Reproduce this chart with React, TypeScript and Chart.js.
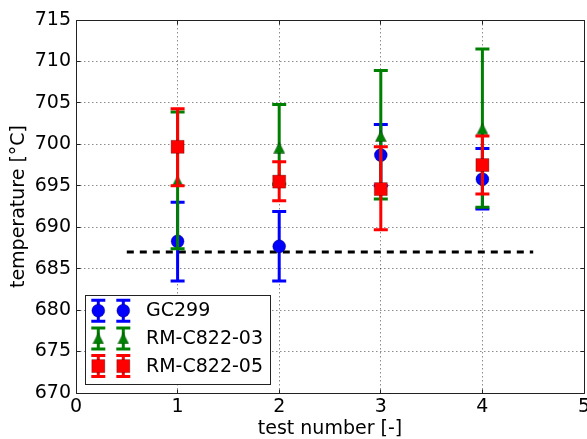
import { useEffect, useRef } from 'react';
import { Chart, registerables } from 'chart.js';
Chart.register(...registerables);

// ---- data ----
const testNumbers = [1, 2, 3, 4];
const seriesLabels = ['GC299', 'RM-C822-03', 'RM-C822-05'];
const gc299Values = [688.3, 687.7, 698.7, 695.8];
const gc299Lower = [683.5, 683.5, 695.0, 692.2];
const gc299Upper = [693.0, 691.9, 702.4, 699.5];
const rm03Values = [695.6, 699.6, 701.0, 701.9];
const rm03Lower = [687.4, 695.2, 693.4, 692.4];
const rm03Upper = [703.9, 704.8, 708.9, 711.5];
const rm05Values = [699.7, 695.5, 694.6, 697.5];
const rm05Lower = [695.0, 693.2, 689.7, 694.0];
const rm05Upper = [704.3, 697.9, 699.7, 701.0];
const referenceX = [0.5, 4.5];
const referenceY = [687, 687];
const xTicks = [0, 1, 2, 3, 4, 5];
const yTicks = [670, 675, 680, 685, 690, 695, 700, 705, 710, 715];

const FONT = { family: '"DejaVu Sans", sans-serif', size: 19 };
const TITLE_FONT = { family: '"DejaVu Sans", sans-serif', size: 19, lineHeight: 1 };
const BLUE = '#0000ff';
const GREEN = '#008000';
const RED = '#ff0000';
const EDGE = 'rgba(0,0,0,0.55)';

function makeTriangle(size: number, fill: string): HTMLCanvasElement {
  const c = document.createElement('canvas');
  c.width = size + 1;
  c.height = size + 1;
  const g = c.getContext('2d')!;
  g.beginPath();
  g.moveTo(0.5, size + 0.5);
  g.lineTo((size + 1) / 2, 0.5);
  g.lineTo(size + 0.5, size + 0.5);
  g.closePath();
  g.fillStyle = fill;
  g.fill();
  g.strokeStyle = EDGE;
  g.lineWidth = 0.5;
  g.stroke();
  return c;
}

const errorBarPlugin = {
  id: 'errorBars',
  beforeDatasetDraw(chart: any, args: any) {
    const ds = chart.data.datasets[args.index] as any;
    if (!ds.errLow) return;
    const xs = chart.scales.x;
    const ys = chart.scales.y;
    const ctx = chart.ctx as CanvasRenderingContext2D;
    ctx.save();
    ctx.strokeStyle = ds.errColor;
    ctx.lineWidth = 3;
    ctx.lineCap = 'butt';
    ds.data.forEach((p: any, i: number) => {
      const px = xs.getPixelForValue(p.x);
      const y1 = ys.getPixelForValue(ds.errLow[i]);
      const y2 = ys.getPixelForValue(ds.errHigh[i]);
      ctx.beginPath();
      ctx.moveTo(px, y1);
      ctx.lineTo(px, y2);
      ctx.moveTo(px - 7, y1);
      ctx.lineTo(px + 7, y1);
      ctx.moveTo(px - 7, y2);
      ctx.lineTo(px + 7, y2);
      ctx.stroke();
    });
    ctx.restore();
  },
};

const gridPlugin = {
  id: 'mplGrid',
  beforeDatasetsDraw(chart: any) {
    const { ctx, chartArea } = chart;
    const xs = chart.scales.x;
    const ys = chart.scales.y;
    ctx.save();
    ctx.strokeStyle = 'rgba(0,0,0,0.45)';
    ctx.lineWidth = 1;
    ctx.setLineDash([1.5, 2.5]);
    xTicks.forEach((v) => {
      const px = Math.floor(xs.getPixelForValue(v)) + 0.5;
      ctx.beginPath();
      ctx.moveTo(px, chartArea.top);
      ctx.lineTo(px, chartArea.bottom);
      ctx.stroke();
    });
    yTicks.forEach((v) => {
      const py = Math.floor(ys.getPixelForValue(v)) + 0.5;
      ctx.beginPath();
      ctx.moveTo(chartArea.left, py);
      ctx.lineTo(chartArea.right, py);
      ctx.stroke();
    });
    ctx.restore();
  },
  afterDatasetsDraw(chart: any) {
    const { ctx, chartArea } = chart;
    const xs = chart.scales.x;
    const ys = chart.scales.y;
    const l = Math.floor(chartArea.left) + 0.5;
    const r = Math.floor(chartArea.right) + 0.5;
    const t = Math.floor(chartArea.top) + 0.5;
    const b = Math.floor(chartArea.bottom) + 0.5;
    ctx.save();
    ctx.strokeStyle = '#222';
    ctx.lineWidth = 1;
    ctx.beginPath();
    ctx.rect(l, t, r - l, b - t);
    ctx.stroke();
    ctx.beginPath();
    xTicks.forEach((v) => {
      const px = Math.floor(xs.getPixelForValue(v)) + 0.5;
      ctx.moveTo(px, b);
      ctx.lineTo(px, b - 4);
      ctx.moveTo(px, t);
      ctx.lineTo(px, t + 4);
    });
    yTicks.forEach((v) => {
      const py = Math.floor(ys.getPixelForValue(v)) + 0.5;
      ctx.moveTo(l, py);
      ctx.lineTo(l + 4, py);
      ctx.moveTo(r, py);
      ctx.lineTo(r - 4, py);
    });
    ctx.stroke();
    ctx.restore();
  },
};

function makeLegendPlugin(tri: HTMLCanvasElement) {
  return {
    id: 'errLegend',
    afterDraw(chart: any) {
      const ctx = chart.ctx as CanvasRenderingContext2D;
      const x0 = 85.5;
      const y0 = 295.5;
      const w = 185;
      const h = 89;
      ctx.save();
      ctx.fillStyle = '#fff';
      ctx.fillRect(x0, y0, w, h);
      ctx.strokeStyle = '#222';
      ctx.lineWidth = 1;
      ctx.strokeRect(x0, y0, w, h);
      const colors = [BLUE, GREEN, RED];
      const shapes = ['circle', 'triangle', 'square'];
      seriesLabels.forEach((label, i) => {
        const cy = 310.7 + i * 27.7;
        [98.3, 123.3].forEach((cx) => {
          ctx.strokeStyle = colors[i];
          ctx.lineWidth = 3;
          ctx.beginPath();
          ctx.moveTo(cx, cy - 10.5);
          ctx.lineTo(cx, cy + 10.5);
          ctx.moveTo(cx - 7, cy - 10.5);
          ctx.lineTo(cx + 7, cy - 10.5);
          ctx.moveTo(cx - 7, cy + 10.5);
          ctx.lineTo(cx + 7, cy + 10.5);
          ctx.stroke();
          ctx.fillStyle = colors[i];
          ctx.strokeStyle = EDGE;
          ctx.lineWidth = 0.5;
          if (shapes[i] === 'circle') {
            ctx.beginPath();
            ctx.arc(cx, cy, 6.5, 0, Math.PI * 2);
            ctx.fill();
            ctx.stroke();
          } else if (shapes[i] === 'square') {
            ctx.beginPath();
            ctx.rect(cx - 6.5, cy - 6.5, 13, 13);
            ctx.fill();
            ctx.stroke();
          } else {
            ctx.drawImage(tri, cx - tri.width / 2, cy - tri.height / 2);
          }
        });
        ctx.fillStyle = '#000';
        ctx.font = `${FONT.size}px ${FONT.family}`;
        ctx.textAlign = 'left';
        ctx.textBaseline = 'middle';
        ctx.fillText(label, 146, cy + 0.5);
      });
      ctx.restore();
    },
  };
}

function pts(values: number[]) {
  return testNumbers.map((x, i) => ({ x, y: values[i] }));
}

export default function App() {
  const ref = useRef<HTMLCanvasElement>(null);
  useEffect(() => {
    const canvas = ref.current!;
    const tri = makeTriangle(11, GREEN);
    const chart = new Chart(canvas, {
      type: 'scatter',
      data: {
        datasets: [
          {
            label: 'reference',
            data: referenceX.map((x, i) => ({ x, y: referenceY[i] })),
            showLine: true,
            borderColor: '#000',
            borderWidth: 3,
            borderDash: [7, 6],
            pointRadius: 0,
            order: 4,
          } as any,
          {
            label: seriesLabels[0],
            data: pts(gc299Values),
            pointStyle: 'circle',
            pointRadius: 6.5,
            backgroundColor: BLUE,
            borderColor: EDGE,
            borderWidth: 0.5,
            order: 3,
            errLow: gc299Lower,
            errHigh: gc299Upper,
            errColor: BLUE,
          } as any,
          {
            label: seriesLabels[1],
            data: pts(rm03Values),
            pointStyle: tri,
            pointRadius: 6,
            backgroundColor: GREEN,
            borderColor: EDGE,
            borderWidth: 0.5,
            order: 2,
            errLow: rm03Lower,
            errHigh: rm03Upper,
            errColor: GREEN,
          } as any,
          {
            label: seriesLabels[2],
            data: pts(rm05Values),
            pointStyle: 'rect',
            pointRadius: 9.2,
            backgroundColor: RED,
            borderColor: EDGE,
            borderWidth: 0.5,
            order: 1,
            errLow: rm05Lower,
            errHigh: rm05Upper,
            errColor: RED,
          } as any,
        ],
      },
      options: {
        animation: false,
        responsive: false,
        maintainAspectRatio: false,
        layout: { autoPadding: false, padding: { left: 0, top: 20, right: 3, bottom: 0 } },
        plugins: { legend: { display: false }, tooltip: { enabled: false } },
        scales: {
          x: {
            type: 'linear',
            min: 0,
            max: 5,
            afterBuildTicks: (s: any) => {
              s.ticks = xTicks.map((v) => ({ value: v }));
            },
            ticks: { font: FONT, color: '#000', padding: 3, maxRotation: 0, autoSkip: false },
            grid: { display: false, drawTicks: false },
            border: { display: false },
            title: { display: true, text: 'test number [-]', font: TITLE_FONT, color: '#000', padding: { top: 0, bottom: 0.5 } },
            afterFit: (s: any) => {
              s.height = 46;
              s.paddingLeft = 0;
              s.paddingRight = 0;
            },
          },
          y: {
            type: 'linear',
            min: 670,
            max: 715,
            afterBuildTicks: (s: any) => {
              s.ticks = yTicks.map((v) => ({ value: v }));
            },
            ticks: { font: FONT, color: '#000', padding: 5, autoSkip: false },
            grid: { display: false, drawTicks: false },
            border: { display: false },
            title: { display: true, text: 'temperature [°C]', font: TITLE_FONT, color: '#000', padding: { top: 10, bottom: 0 } },
            afterFit: (s: any) => {
              s.width = 76;
              s.paddingTop = 0;
              s.paddingBottom = 0;
            },
          },
        },
      },
      plugins: [gridPlugin, errorBarPlugin, makeLegendPlugin(tri)],
    });
    return () => chart.destroy();
  }, []);
  return (
    <div style={{ position: 'fixed', left: 0, top: 0, width: 587, height: 439, background: '#fff' }}>
      <canvas ref={ref} width={587} height={439} style={{ display: 'block' }} />
    </div>
  );
}
